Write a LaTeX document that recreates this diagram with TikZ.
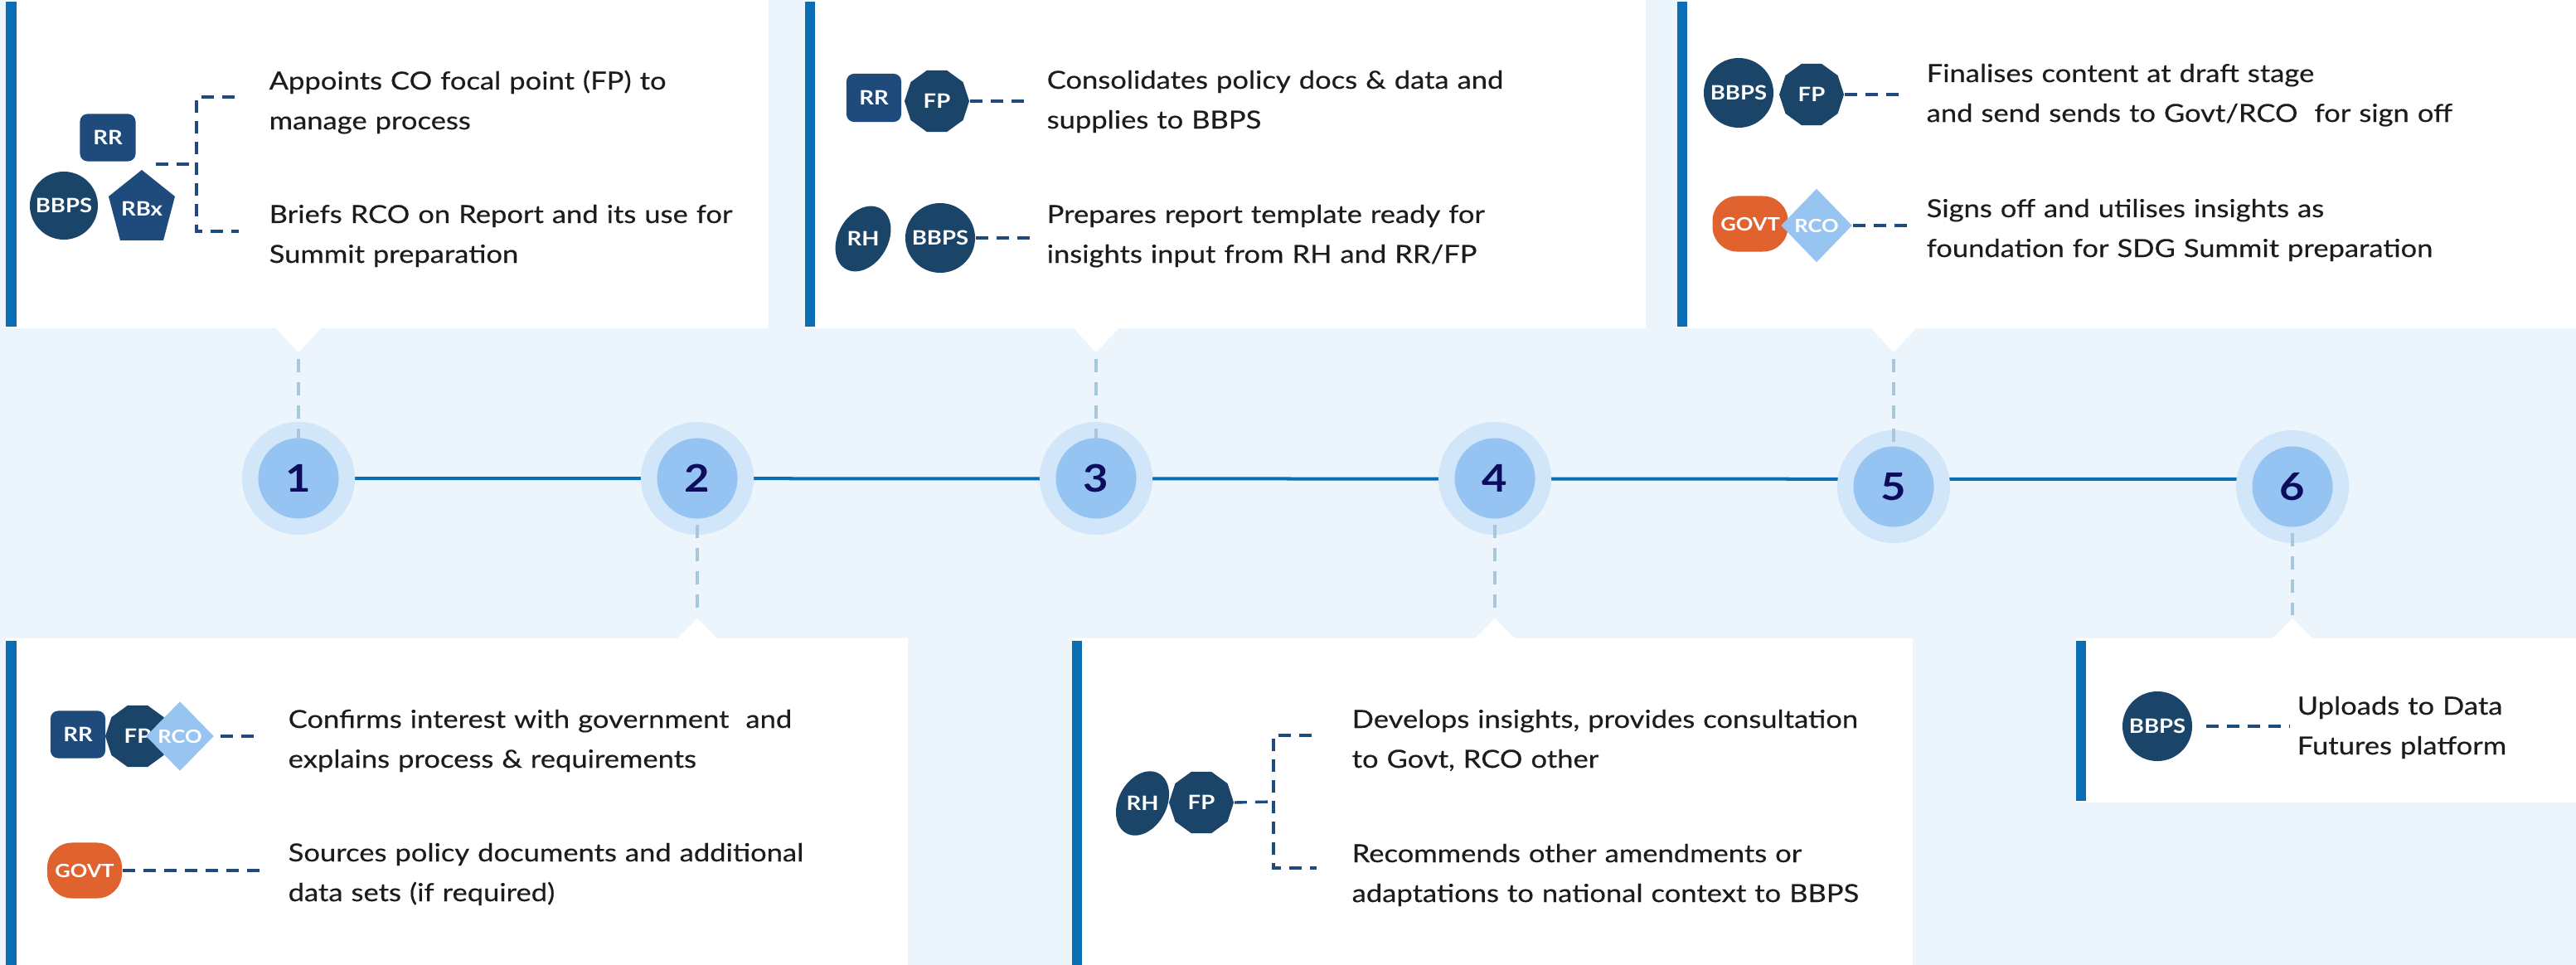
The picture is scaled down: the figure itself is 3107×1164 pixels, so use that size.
\documentclass[tikz,border=0pt]{standalone}
\usepackage{fontspec}
\setmainfont[FakeStretch=1.15,UprightFeatures={FakeBold=0.35}]{Lato}
\usetikzlibrary{shapes.geometric}
\definecolor{bgblue}{HTML}{EDF5FC}
\definecolor{barblue}{HTML}{0A6EB4}
\definecolor{outerblue}{HTML}{D1E6F8}
\definecolor{innerblue}{HTML}{96C4F2}
\definecolor{numcol}{HTML}{0D0D5E}
\definecolor{navyA}{HTML}{1F4A7C}
\definecolor{navyB}{HTML}{1B4568}
\definecolor{orangeA}{HTML}{E0622E}
\definecolor{rcoblue}{HTML}{98C4F1}
\definecolor{greydash}{HTML}{A8C7DB}
\definecolor{textcol}{HTML}{1C1C1C}
\begin{document}
\begin{tikzpicture}[x=0.01cm,y=-0.01cm,
  actor/.style={inner sep=0pt, text=white, font=\bfseries\fontsize{6.8pt}{8pt}\selectfont},
  smallactor/.style={actor, font=\bfseries\fontsize{6.3pt}{8pt}\selectfont},
  rrbox/.style={actor, rectangle, rounded corners=0.09cm, fill=navyA, minimum width=0.67cm, minimum height=0.57cm},
  bbps/.style={actor, circle, fill=navyB, minimum size=0.83cm},
  fpdec/.style={actor, regular polygon, regular polygon sides=10, fill=navyB, minimum size=0.78cm},
  govt/.style={smallactor, rectangle, rounded corners=0.3cm, fill=orangeA, minimum width=0.91cm, minimum height=0.67cm},
  rco/.style={smallactor, diamond, fill=rcoblue, minimum width=0.86cm, minimum height=0.89cm},
  outerc/.style={circle, fill=outerblue, minimum size=1.36cm, inner sep=0pt},
  innerc/.style={circle, fill=innerblue, minimum size=0.97cm, inner sep=0pt, text=numcol, font=\bfseries\fontsize{13pt}{14pt}\selectfont},
  tl/.style={barblue, line width=0.04cm},
  gd/.style={greydash, line width=0.035cm, dash pattern=on 0.16cm off 0.12cm},
  dl/.style={navyA, line width=0.034cm, dash pattern=on 0.15cm off 0.1cm},
  txt/.style={anchor=base west, inner sep=0pt, text width=8cm, align=left, text=textcol, font=\fontsize{8.54pt}{13.66pt}\selectfont}
]
\useasboundingbox (0,0) rectangle (3107,1164);
\fill[bgblue] (0,0) rectangle (3107,1164);

% ---- white boxes with blue bars
\fill[white] (7,0) rectangle (927,396);
\fill[barblue] (7,2) rectangle (20,394);
\fill[white] (971,0) rectangle (1985,396);
\fill[barblue] (971,2) rectangle (983,394);
\fill[white] (2023,0) rectangle (3107,396);
\fill[barblue] (2023,2) rectangle (2035,394);
\fill[white] (7,770) rectangle (1095,1164);
\fill[barblue] (7,773) rectangle (20,1164);
\fill[white] (1293,770) rectangle (2307,1164);
\fill[barblue] (1293,773) rectangle (1305,1164);
\fill[white] (2504,770) rectangle (3107,968);
\fill[barblue] (2504,773) rectangle (2516,966);

% ---- pointers
\fill[white] (332,395) -- (388,395) -- (360,425) -- cycle;
\fill[white] (1294,395) -- (1350,395) -- (1322,425) -- cycle;
\fill[white] (2256,395) -- (2312,395) -- (2284,425) -- cycle;
\fill[white] (816,771) -- (866,771) -- (841,746) -- cycle;
\fill[white] (1778,771) -- (1828,771) -- (1803,746) -- cycle;
\fill[white] (2740,771) -- (2790,771) -- (2765,746) -- cycle;

% ---- timeline
\coordinate (c1) at (360,577);
\coordinate (c2) at (841,577);
\coordinate (c3) at (1322,577);
\coordinate (c4) at (1803,577);
\coordinate (c5) at (2284,587);
\coordinate (c6) at (2765,587);
\coordinate (p1) at (360,433);
\coordinate (p3) at (1322,433);
\coordinate (p5) at (2284,433);
\coordinate (p2) at (841,742);
\coordinate (p4) at (1803,742);
\coordinate (p6) at (2765,742);
\draw[tl] (c1) -- (c6 |- 0,578);
\foreach \i in {1,...,6}{\node[outerc] (o\i) at (c\i) {};}
\draw[gd] (p1) -- (o1.center);
\draw[gd] (p3) -- (o3.center);
\draw[gd] (p5) -- (o5.center);
\draw[gd] (o2.center) -- (p2);
\draw[gd] (o4.center) -- (p4);
\draw[gd] (o6.center) -- (p6);
\foreach \i in {1,...,6}{\node[innerc] (n\i) at (c\i) {\i};}

% ---- step 1
\node[rrbox] (rr1) at (130,166) {RR};
\node[bbps, minimum size=0.82cm] (bb1) at (77,248) {BBPS};
\fill[navyA] (171,205) -- (211,237) -- (197,290) -- (145,290) -- (131,237) -- cycle;
\node[actor] (rbx1) at (171,252) {RBx};
\node[txt] (t1a) at (324,108) {Appoints CO focal point (FP) to\\manage process};
\node[txt] (t1b) at (324,269) {Briefs RCO on Report and its use for\\Summit preparation};
\coordinate (k1) at (188,198);
\coordinate (k1m) at (237,198);
\coordinate (k1t) at (283,117);
\coordinate (k1b) at (288,279);
\draw[dl] (k1) -- (k1m);
\draw[dl] (k1t) -- (k1t -| k1m) -- (k1b -| k1m) -- (k1b);

% ---- step 3
\node[rrbox, minimum width=0.66cm, minimum height=0.58cm] (rr3) at (1054,118) {RR};
\node[fpdec] (fp3) at (1130,122) {FP};
\fill[navyB, rotate around={-30:(1041,288)}] (1041,288) ellipse [x radius=0.30cm, y radius=0.42cm];
\node[actor] (rh3) at (1041,288) {RH};
\node[bbps, minimum size=0.84cm] (bb3) at (1134,287) {BBPS};
\node[txt] (t3a) at (1262,107) {Consolidates policy docs \& data and\\supplies to BBPS};
\node[txt] (t3b) at (1262,269) {Prepares report template ready for\\insights input from RH and RR/FP};
\draw[dl, shorten >=0.19cm] (fp3.east) -- (t3a.west |- fp3.east);
\draw[dl, shorten >=0.19cm] (bb3.east) -- (t3b.west |- bb3.east);

% ---- step 5
\node[bbps, minimum size=0.84cm] (bb5) at (2097,112) {BBPS};
\node[fpdec] (fp5) at (2185,114) {FP};
\node[govt] (gv5) at (2111,270) {GOVT};
\node[rco] (rc5) at (2191,272) {RCO};
\node[txt] (t5a) at (2323,99) {Finalises content at draft stage\\and send sends to Govt/RCO\ \ for sign off};
\node[txt] (t5b) at (2323,262) {Signs off and utilises insights as\\foundation for SDG Summit preparation};
\draw[dl, shorten >=0.26cm] (fp5.east) -- (t5a.west |- fp5.east);
\draw[dl, shorten >=0.21cm] (rc5.east) -- (t5b.west |- rc5.east);

% ---- step 2
\node[rrbox, minimum width=0.66cm] (rr2) at (94,886) {RR};
\node[fpdec] (fp2) at (166,888) {FP\hspace{0.22cm}};
\node[rco, minimum width=0.82cm, minimum height=0.84cm] (rc2) at (217,888) {RCO};
\node[govt, minimum width=0.90cm] (gv2) at (102,1050) {GOVT};
\node[txt] (t2a) at (347,878) {Confirms interest with government\ \ and\\explains process \& requirements};
\node[txt] (t2b) at (347,1039) {Sources policy documents and additional\\data sets (if required)};
\draw[dl, shorten >=0.35cm, shorten <=0.07cm] (rc2.east) -- (t2a.west |- rc2.east);
\draw[dl, shorten >=0.33cm] (gv2.east) -- (t2b.west |- gv2.east);

% ---- step 4
\fill[navyB, rotate around={-28:(1378,969)}] (1378,969) ellipse [x radius=0.29cm, y radius=0.41cm];
\node[actor] (rh4) at (1378,969) {RH};
\node[fpdec] (fp4) at (1449,968) {FP};
\node[txt] (t4a) at (1630,878) {Develops insights, provides consultation\\to Govt, RCO other};
\node[txt] (t4b) at (1630,1040) {Recommends other amendments or\\adaptations to national context to BBPS};
\coordinate (k4m) at (1536,967);
\coordinate (k4t) at (1582,887);
\coordinate (k4b) at (1588,1047);
\draw[dl] (fp4.east) -- (k4m);
\draw[dl] (k4t) -- (k4t -| k4m) -- (k4b -| k4m) -- (k4b);

% ---- step 6
\node[bbps, minimum size=0.84cm] (bb6) at (2602,876) {BBPS};
\node[txt] (t6) at (2770,862) {Uploads to Data\\Futures platform};
\draw[dl, shorten <=0.16cm, shorten >=0.09cm] (bb6.east) -- (t6.west |- bb6.east);
\end{tikzpicture}
\end{document}
